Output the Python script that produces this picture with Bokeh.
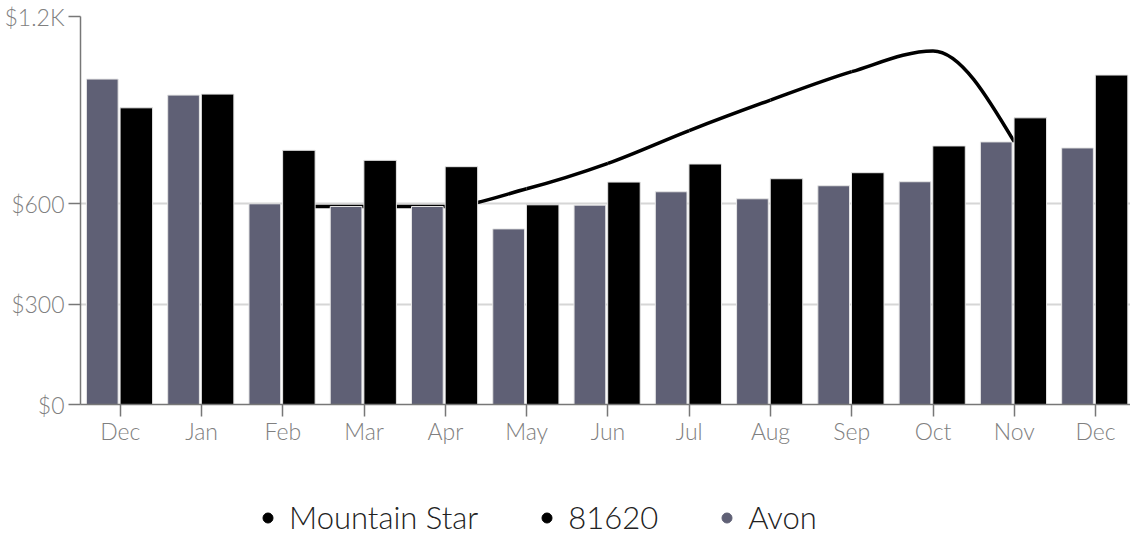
import numpy as np
from bokeh.plotting import figure
from bokeh.layouts import column
from bokeh.models import Range1d, FixedTicker, Legend, LegendItem
from bokeh.embed import file_html
from bokeh.resources import INLINE

# ---- data ----
months = ["Dec", "Jan", "Feb", "Mar", "Apr", "May", "Jun", "Jul", "Aug", "Sep", "Oct", "Nov", "Dec"]
avon = [973, 925, 600, 592, 592, 525, 596, 636, 615, 654, 666, 785, 767]
zip_81620 = [887, 928, 760, 730, 711, 597, 665, 719, 675, 693, 773, 857, 985]
mountain_star_idx = [2, 3, 4, 5, 6, 7, 8, 9, 10, 11]
mountain_star = [592, 592, 592, 645, 721, 819, 910, 995, 1057, 785]
y_ticks = [0, 300, 600, 1160]
y_labels = ["$0", "$300", "$600", "$1.2K"]
series_names = ["Mountain Star", "81620", "Avon"]

GREY = "#5f6075"
FONT = "Lato Light"

p = figure(width=1130, height=460, output_backend="svg", toolbar_location=None,
           x_range=Range1d(-0.49, 12.43), y_range=Range1d(0, 1160),
           min_border_left=80, min_border_right=0, min_border_top=16, min_border_bottom=56)
p.outline_line_color = None

# ---- monotone-x curve (d3 curveMonotoneX) via bezier segments ----
xs = np.array(mountain_star_idx, dtype=float)
ys = np.array(mountain_star, dtype=float)
n = len(xs)
t = np.zeros(n)
def sgn(v):
    return 1.0 if v > 0 else (-1.0 if v < 0 else 0.0)
for i in range(1, n - 1):
    h0 = xs[i] - xs[i - 1]; h1 = xs[i + 1] - xs[i]
    s0 = (ys[i] - ys[i - 1]) / h0; s1 = (ys[i + 1] - ys[i]) / h1
    pp = (s0 * h1 + s1 * h0) / (h0 + h1)
    t[i] = (sgn(s0) + sgn(s1)) * min(abs(s0), abs(s1), 0.5 * abs(pp))
h = xs[1] - xs[0]
t[0] = (3 * (ys[1] - ys[0]) / h - t[1]) / 2
h = xs[-1] - xs[-2]
t[-1] = (3 * (ys[-1] - ys[-2]) / h - t[-2]) / 2
x0 = xs[:-1]; x1 = xs[1:]; y0 = ys[:-1]; y1 = ys[1:]
dx = (x1 - x0) / 3
p.bezier(x0=x0, y0=y0, x1=x1, y1=y1,
         cx0=x0 + dx, cy0=y0 + t[:-1] * dx, cx1=x1 - dx, cy1=y1 - t[1:] * dx,
         line_color="black", line_width=3.5)

# ---- bars ----
idx = np.arange(len(months))
p.vbar(x=idx - 0.222, top=avon, width=0.39, fill_color=GREY, line_color="#e6e6e6", line_width=1)
p.vbar(x=idx + 0.197, top=zip_81620, width=0.4, fill_color="black", line_color="#e6e6e6", line_width=1)

# ---- axes ----
p.xgrid.grid_line_color = None
p.ygrid.ticker = FixedTicker(ticks=y_ticks[1:])
p.ygrid.grid_line_color = "#d6d6d6"
p.ygrid.grid_line_width = 2

p.xaxis.ticker = FixedTicker(ticks=list(range(len(months))))
p.xaxis.major_label_overrides = {i: m for i, m in enumerate(months)}
p.yaxis.ticker = FixedTicker(ticks=y_ticks)
p.yaxis.major_label_overrides = {v: l for v, l in zip(y_ticks, y_labels)}

for ax in (p.xaxis[0], p.yaxis[0]):
    ax.axis_line_color = "#777777"
    ax.axis_line_width = 1.5
    ax.major_tick_line_color = "#777777"
    ax.major_tick_line_width = 1.5
    ax.major_tick_in = 0
    ax.major_tick_out = 12
    ax.minor_tick_line_color = None
    ax.major_label_text_font = FONT
    ax.major_label_text_font_size = "23px"
    ax.major_label_text_color = "#808080"
p.xaxis.major_label_standoff = 0
p.yaxis.major_label_standoff = 4

# ---- legend (separate strip below the chart; frame aligned with chart frame) ----
lg = figure(width=1130, height=76, output_backend="svg", toolbar_location=None,
            x_range=Range1d(0, 1), y_range=Range1d(0, 1),
            min_border_left=0, min_border_right=0, min_border_top=0, min_border_bottom=0)
lg.axis.visible = False
lg.grid.visible = False
lg.outline_line_color = None
colors = ["black", "black", GREY]
rends = [lg.scatter(x=[-5], y=[-5], marker="circle", size=10, fill_color=c, line_color=c) for c in colors]
legend = Legend(items=[LegendItem(label=nm, renderers=[r]) for nm, r in zip(series_names, rends)],
                orientation="horizontal", location=(175, 0),
                glyph_width=25, glyph_height=25, label_standoff=9, spacing=56,
                padding=0, margin=0, border_line_color=None, background_fill_alpha=0,
                label_text_font=FONT, label_text_font_size="31px", label_text_color="#222222")
lg.add_layout(legend, "center")

open("out.html", "w").write(file_html(column(p, lg), INLINE))
